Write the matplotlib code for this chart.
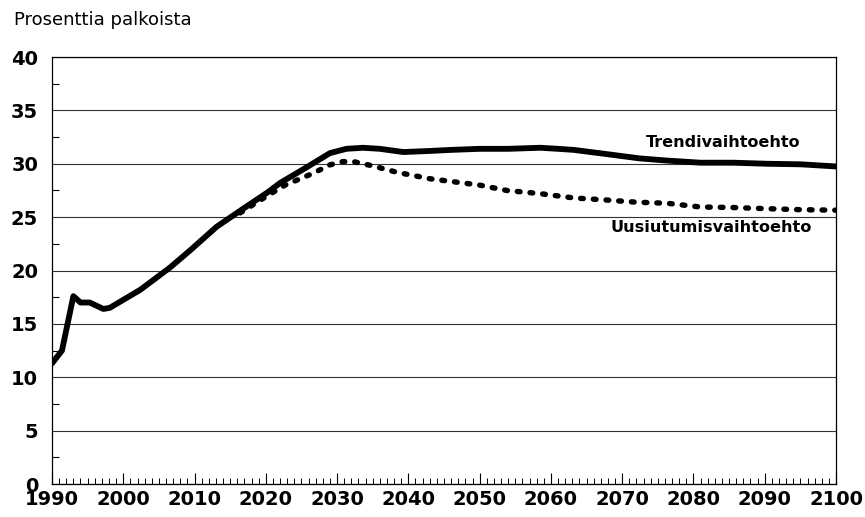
import numpy as np
import matplotlib.pyplot as plt
import matplotlib.transforms as mtransforms
from matplotlib.ticker import MultipleLocator

# values (percent of wages)
trend_years = [1990, 1991.4, 1993, 1994, 1995.3, 1997.2, 1998.1, 2002.4, 2006.6, 2009.4,
               2013.1, 2016.4, 2020.2, 2022, 2025.8, 2029, 2031.3, 2033.6, 2036, 2039.3,
               2043, 2046, 2050, 2054, 2058.5, 2061, 2063.2, 2067.9, 2072.5, 2076.3,
               2081, 2085.6, 2090.4, 2095, 2100]
trend_vals = [11.3, 12.5, 17.6, 17.0, 17.0, 16.4, 16.5, 18.2, 20.3, 21.9,
              24.1, 25.6, 27.3, 28.2, 29.7, 31.0, 31.4, 31.5, 31.4, 31.1,
              31.2, 31.3, 31.4, 31.4, 31.5, 31.4, 31.3, 30.9, 30.5, 30.3,
              30.1, 30.1, 30.0, 29.95, 29.75]

uusi_years = [2016.4, 2020.2, 2022.7, 2026.6, 2029, 2030.8, 2032.3, 2035, 2038.4, 2043,
              2047.7, 2050, 2053.8, 2058.5, 2063.2, 2067.9, 2072, 2076.3, 2081,
              2085.6, 2090, 2095, 2100]
uusi_vals = [25.4, 27.0, 28.0, 29.1, 29.9, 30.2, 30.2, 29.8, 29.2, 28.6,
             28.2, 28.0, 27.5, 27.2, 26.8, 26.6, 26.4, 26.3, 25.95,
             25.9, 25.8, 25.7, 25.65]

plt.rcParams['font.family'] = ['DejaVu Sans']

fig = plt.figure(figsize=(8.65, 5.17), dpi=100)
ax = fig.add_axes([0.0601, 0.0638, 0.9064, 0.8259])

ax.plot(uusi_years, uusi_vals, color='black', lw=3.9,
        linestyle=(0, (0.5, 1.85)), dash_capstyle='round', zorder=3)
ax.plot(trend_years, trend_vals, color='black', lw=4.2,
        solid_capstyle='round', solid_joinstyle='round', zorder=4)

ax.set_xlim(1990, 2100)
ax.set_ylim(0, 40)
ax.xaxis.set_major_locator(MultipleLocator(10))
ax.xaxis.set_minor_locator(MultipleLocator(1))
ax.yaxis.set_major_locator(MultipleLocator(5))
ax.yaxis.set_minor_locator(MultipleLocator(2.5))

ax.grid(axis='y', which='major', color='#333333', lw=0.8)
ax.tick_params(axis='x', which='major', direction='in', length=8, width=0.8, pad=4)
ax.tick_params(axis='x', which='minor', direction='in', length=4, width=0.7)
ax.tick_params(axis='y', which='major', direction='in', length=0, pad=10)
ax.tick_params(axis='y', which='minor', direction='in', length=5, width=0.8)
for lab in ax.get_xticklabels() + ax.get_yticklabels():
    lab.set_fontsize(14)
    lab.set_fontweight('bold')
for sp in ax.spines.values():
    sp.set_linewidth(0.9)

# lift the "0" a little so it clears the 1990 label, as in the original
zero_lab = ax.get_yticklabels()[0]
zero_lab.set_transform(zero_lab.get_transform() +
                       mtransforms.ScaledTranslation(0, 4 / 72, fig.dpi_scale_trans))

ax.text(2095, 32.0, 'Trendivaihtoehto', fontsize=11.5, fontweight='bold',
        ha='right', va='center')
ax.text(2096.6, 24.0, 'Uusiutumisvaihtoehto', fontsize=11.6, fontweight='bold',
        ha='right', va='center')

fig.text(0.016, 0.962, 'Prosenttia palkoista', fontsize=13, ha='left', va='center')

fig.savefig('out.png', dpi=100)
